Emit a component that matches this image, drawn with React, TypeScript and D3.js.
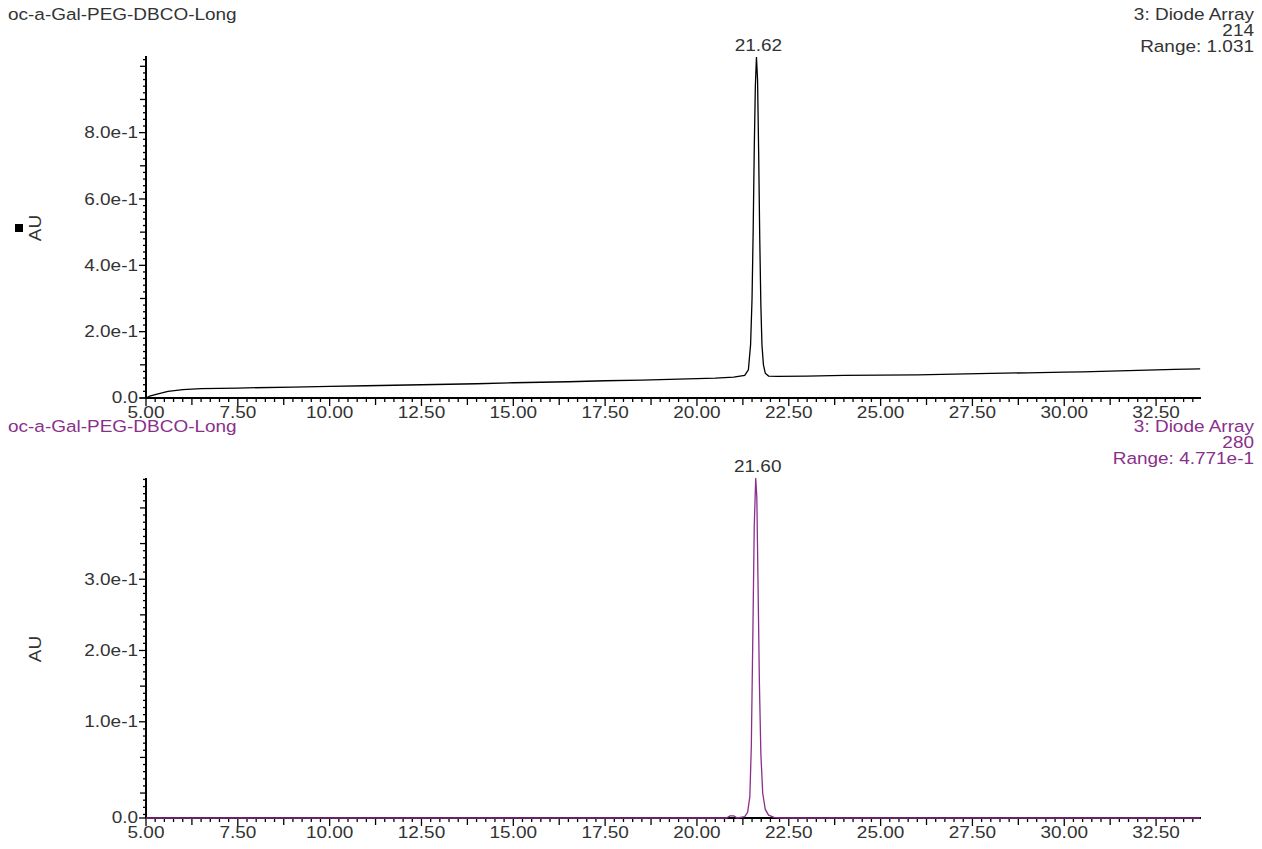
import * as d3 from "d3";
import React from "react";

const sampleName = "oc-a-Gal-PEG-DBCO-Long";

// chromatogram 1 : diode array 214 nm
const topTime = [5.0, 5.1, 5.3, 5.6, 6.0, 6.5, 7.5, 9.0, 10.0, 11.0, 12.5, 14.0, 15.0, 16.5, 17.5, 18.5, 19.5, 20.5, 21.0, 21.3, 21.4, 21.46, 21.5, 21.53, 21.56, 21.59, 21.62, 21.65, 21.68, 21.71, 21.74, 21.77, 21.81, 21.86, 21.95, 22.2, 23.0, 24.0, 25.0, 26.0, 27.0, 28.0, 29.0, 30.0, 30.5, 31.0, 32.0, 33.0, 33.7];
const topAbs = [0.0, 0.006, 0.012, 0.02, 0.025, 0.028, 0.03, 0.033, 0.035, 0.037, 0.04, 0.043, 0.046, 0.049, 0.052, 0.054, 0.057, 0.06, 0.063, 0.068, 0.085, 0.16, 0.3, 0.5, 0.75, 0.94, 1.028, 0.96, 0.74, 0.48, 0.28, 0.16, 0.1, 0.075, 0.066, 0.065, 0.066, 0.068, 0.069, 0.07, 0.072, 0.074, 0.076, 0.078, 0.079, 0.08, 0.083, 0.086, 0.088];

// chromatogram 2 : diode array 280 nm (baseline sits below the 0.0 grid value)
const botTime = [5.0, 10.0, 15.0, 20.0, 20.8, 20.9, 21.0, 21.1, 21.3, 21.38, 21.44, 21.48, 21.52, 21.56, 21.6, 21.63, 21.66, 21.7, 21.74, 21.79, 21.86, 21.95, 22.1, 22.3, 25.0, 30.0, 33.7];
const botAbs = [-0.035, -0.035, -0.035, -0.035, -0.035, -0.032, -0.032, -0.035, -0.033, -0.027, -0.005, 0.065, 0.215, 0.375, 0.442, 0.415, 0.305, 0.155, 0.055, 0.0, -0.023, -0.031, -0.034, -0.035, -0.035, -0.035, -0.035];

const xLabels = [5, 7.5, 10, 12.5, 15, 17.5, 20, 22.5, 25, 27.5, 30, 32.5];
const topYLabels = [0.2, 0.4, 0.6, 0.8];
const botYLabels = [0.1, 0.2, 0.3];

const FONT = "'Liberation Sans', Arial, sans-serif";
const FS = 16.5;
const SX = 1.15;
const GREY = "#333";
const PURPLE = "#8a2f8a";

const W = 1262;
const H = 849;
const X0 = 146;
const X1 = 1201;

const T = ({ x, y, anchor = "start", fill = GREY, rotate = 0, children }: any) => (
  <text
    transform={`translate(${x},${y}) rotate(${rotate}) scale(${SX},1)`}
    textAnchor={anchor}
    dominantBaseline="central"
    fontFamily={FONT}
    fontSize={FS}
    fill={fill}
  >
    {children}
  </text>
);

const fmtY = (v: number) => d3.format(".1e")(v);

const Panel = ({ top, bottom, headY, time, abs, yMin, yMax, wave, rangeText, peakText, yLabels, minorStep, color, textColor, marker }: any) => {
  const x = d3.scaleLinear().domain([5, 5 + (X1 - X0) / 36.73]).range([X0, X1]);
  const y = d3.scaleLinear().domain([yMin, yMax]).range([bottom, top]);
  const pts = time.map((t: number, i: number) => [t, abs[i]] as [number, number]);
  const line = d3.line().x((d) => x(d[0])).y((d) => y(d[1]));

  const xTicks = d3.range(5, 33.6, 0.25);
  const yTicks = d3.range(Math.ceil(yMin / minorStep) * minorStep, yMax, minorStep);
  const peakIdx = d3.maxIndex(abs);

  return (
    <g>
      <T x={8} y={headY} fill={textColor}>{sampleName}</T>
      <T x={1254} y={headY} anchor="end" fill={textColor}>3: Diode Array</T>
      <T x={1254} y={headY + 16} anchor="end" fill={textColor}>{wave}</T>
      <T x={1254} y={headY + 32} anchor="end" fill={textColor}>Range: {rangeText}</T>

      {/* y axis */}
      <line x1={X0} x2={X0} y1={top} y2={bottom} stroke="#000" strokeWidth={2} />
      {yTicks.map((v: number, i: number) => {
        const isMajor = yLabels.some((l: number) => Math.abs(l - v) < 1e-6);
        const isMid = Math.abs(v / (minorStep * 5) - Math.round(v / (minorStep * 5))) < 1e-6;
        const len = isMajor ? 7 : isMid ? 6 : 3;
        return <line key={i} x1={X0 - len} x2={X0} y1={y(v)} y2={y(v)} stroke="#000" strokeWidth={1.3} />;
      })}
      <line x1={X0 - 7} x2={X0} y1={bottom} y2={bottom} stroke="#000" strokeWidth={1.3} />
      <T x={X0 - 8} y={bottom - 1} anchor="end">0.0</T>
      {yLabels.map((v: number) => (
        <T key={v} x={X0 - 8} y={y(v)} anchor="end">{fmtY(v)}</T>
      ))}

      {/* x axis */}
      <line x1={X0} x2={X1} y1={bottom} y2={bottom} stroke="#000" strokeWidth={2} />
      {xTicks.map((v: number, i: number) => {
        const k = Math.round((v - 5) / 0.25);
        const len = k % 10 === 0 ? 8 : k % 5 === 0 ? 7 : 4;
        return <line key={i} x1={x(v)} x2={x(v)} y1={bottom} y2={bottom + len} stroke="#000" strokeWidth={1.3} />;
      })}
      {xLabels.map((v) => (
        <T key={v} x={x(v)} y={bottom + 14} anchor="middle">{v.toFixed(2)}</T>
      ))}

      <path d={line(pts) || ""} fill="none" stroke={color} strokeWidth={1.3} />
      <T x={x(time[peakIdx]) + 2} y={y(abs[peakIdx]) - 12} anchor="middle">{peakText}</T>

      <T x={35} y={(top + bottom) / 2 + 1} anchor="middle" rotate={-90}>AU</T>
      {marker && <rect x={15} y={(top + bottom) / 2 - 3} width={8} height={8} fill="#000" />}
    </g>
  );
};

export default function App() {
  return (
    <svg width={W} height={H} style={{ position: "absolute", left: 0, top: 0, background: "#fff" }}>
      <rect width={W} height={H} fill="#fff" />
      <Panel top={56} bottom={398} headY={14} time={topTime} abs={topAbs} yMin={0} yMax={1.031} wave="214" rangeText="1.031"
        peakText="21.62" yLabels={topYLabels} minorStep={0.02} color="#000" textColor={GREY} marker />
      <Panel top={478} bottom={818} headY={426} time={botTime} abs={botAbs} yMin={-0.035} yMax={0.442} wave="280" rangeText="4.771e-1"
        peakText="21.60" yLabels={botYLabels} minorStep={0.01} color={PURPLE} textColor={PURPLE} />
    </svg>
  );
}
